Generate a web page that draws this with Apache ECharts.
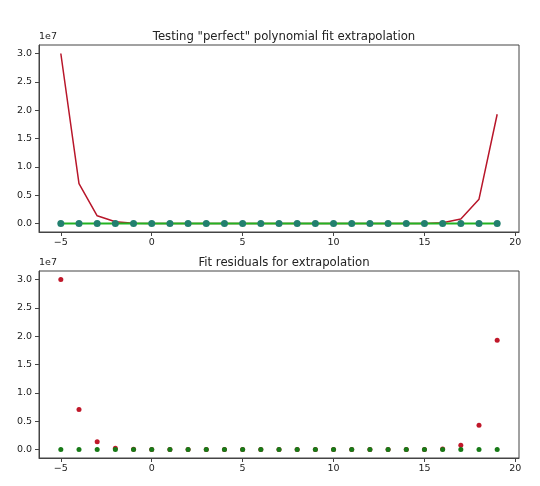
<!DOCTYPE html>
<html><head><meta charset="utf-8">
<script src="https://cdn.jsdelivr.net/npm/echarts@6/dist/echarts.min.js"></script>
<style>html,body{margin:0;padding:0;background:#fff}#c{width:540px;height:486px}</style>
</head><body><div id="c"></div>
<script>
const xs = [-5,-4,-3,-2,-1,0,1,2,3,4,5,6,7,8,9,10,11,12,13,14,15,16,17,18,19];
const fitValues = [3.0e7,0.705e7,0.136e7,0.03e7,0.003e7,0,0,0,0,0,0,0,0,0,0,0,0,0,0,0,0,0.015e7,0.08e7,0.43e7,1.928e7];
const trueValues = [0,0,0,0,0,0,0,0,0,0,0,0,0,0,0,0,0,0,0,0,0,0,0,0,0];
const residFit = [2.999e7,0.705e7,0.136e7,0.02e7,0.003e7,0,0,0,0,0,0,0,0,0,0,0,0,0,0,0,0,0.01e7,0.077e7,0.43e7,1.928e7];
const residPoly = [0,0,0,0,0,0,0,0,0,0,0,0,0,0,0,0,0,0,0,0,0,0,0,0,0];
const xTicks = [-5,0,5,10,15,20];
const yTicks = [0,0.5e7,1.0e7,1.5e7,2.0e7,2.5e7,3.0e7];
const titles = ['Testing "perfect" polynomial fit extrapolation','Fit residuals for extrapolation'];

const pair = (a) => xs.map((x,i)=>[x,a[i]]);
const FONT = 'DejaVu Sans';
const lblStyle = {color:'#222', fontFamily:FONT, fontSize:9.5};
function xAx(gi){
  return {type:'value', gridIndex:gi, min:-6.2, max:20.2,
    axisLine:{show:true,onZero:false,lineStyle:{color:'#444',width:1}},
    axisTick:{show:true,inside:false,length:4,customValues:xTicks,lineStyle:{color:'#444'}},
    axisLabel:Object.assign({show:true,margin:6,customValues:xTicks,formatter:v=>String(v).replace('-','\u2212')},lblStyle),
    splitLine:{show:false}};
}
function yAx(gi){
  return {type:'value', gridIndex:gi, min:-0.15e7, max:3.15e7,
    name:'1e7', nameLocation:'end', nameGap:3,
    nameTextStyle:{fontFamily:FONT,fontSize:9.5,color:'#222',align:'left',padding:[0,0,0,0]},
    axisLine:{show:true,onZero:false,lineStyle:{color:'#444',width:1}},
    axisTick:{show:true,inside:false,length:4,customValues:yTicks,lineStyle:{color:'#444'}},
    axisLabel:Object.assign({show:true,margin:7,customValues:yTicks,formatter:v=>(v/1e7).toFixed(1)},lblStyle),
    splitLine:{show:false}};
}
const chart = echarts.init(document.getElementById('c'));
chart.setOption({
  backgroundColor:'#fff',
  animation:false,
  title:[
    {text:titles[0],left:279,top:26,textAlign:'center',textStyle:{fontFamily:FONT,fontSize:11.7,fontWeight:'normal',color:'#222'}},
    {text:titles[1],left:279,top:252,textAlign:'center',textStyle:{fontFamily:FONT,fontSize:11.7,fontWeight:'normal',color:'#222'}}
  ],
  grid:[
    {left:39,width:480,top:45,height:187,show:true,borderColor:'#444',borderWidth:1,backgroundColor:'transparent'},
    {left:39,width:480,top:271,height:187,show:true,borderColor:'#444',borderWidth:1,backgroundColor:'transparent'}
  ],
  xAxis:[xAx(0),xAx(1)],
  yAxis:[yAx(0),yAx(1)],
  series:[
    {type:'line',xAxisIndex:0,yAxisIndex:0,data:pair(fitValues),showSymbol:false,symbol:'none',lineStyle:{color:'#b8162a',width:1.5},z:2},
    {type:'line',xAxisIndex:0,yAxisIndex:0,data:pair(trueValues),showSymbol:false,symbol:'none',lineStyle:{color:'#22b322',width:2},z:3},
    {type:'scatter',xAxisIndex:0,yAxisIndex:0,data:pair(trueValues),symbolSize:7,itemStyle:{color:'#22806f',opacity:1},z:4},
    {type:'scatter',xAxisIndex:1,yAxisIndex:1,data:pair(residFit),symbolSize:5,itemStyle:{color:'#c0182a',opacity:1},z:2},
    {type:'scatter',xAxisIndex:1,yAxisIndex:1,data:pair(residPoly),symbolSize:5,itemStyle:{color:'#177a17',opacity:1},z:3}
  ]
});
</script></body></html>
